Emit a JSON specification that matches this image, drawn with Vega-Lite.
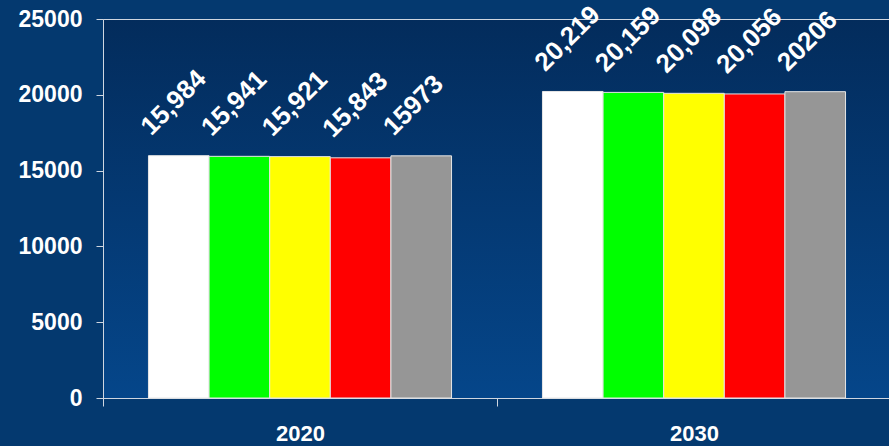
{
  "$schema": "https://vega.github.io/schema/vega-lite/v6.json",
  "width": 788,
  "height": 379,
  "autosize": {"type": "none"},
  "padding": {"left": 103, "top": 19, "right": 0, "bottom": 48},
  "background": "#04396f",
  "config": {
    "view": {
      "fill": {"gradient": "linear", "x1": 0, "y1": 0, "x2": 0, "y2": 1,
        "stops": [{"offset": 0, "color": "#032c5c"}, {"offset": 1, "color": "#05468a"}]},
      "stroke": "#cfd6e0",
      "strokeWidth": 1
    },
    "axis": {
      "labelFont": "Liberation Sans",
      "labelFontWeight": "bold",
      "labelFontSize": 23,
      "labelColor": "#ffffff",
      "domainColor": "#cfd6e0",
      "tickColor": "#cfd6e0",
      "title": null,
      "grid": false
    }
  },
  "data": {
    "values": [
      {"year": "2020", "series": "s1", "value": 15984, "label": "15,984"},
      {"year": "2020", "series": "s2", "value": 15941, "label": "15,941"},
      {"year": "2020", "series": "s3", "value": 15921, "label": "15,921"},
      {"year": "2020", "series": "s4", "value": 15843, "label": "15,843"},
      {"year": "2020", "series": "s5", "value": 15973, "label": "15973"},
      {"year": "2030", "series": "s1", "value": 20219, "label": "20,219"},
      {"year": "2030", "series": "s2", "value": 20159, "label": "20,159"},
      {"year": "2030", "series": "s3", "value": 20098, "label": "20,098"},
      {"year": "2030", "series": "s4", "value": 20056, "label": "20,056"},
      {"year": "2030", "series": "s5", "value": 20206, "label": "20206"}
    ]
  },
  "encoding": {
    "x": {
      "field": "year", "type": "nominal",
      "scale": {"paddingInner": 0, "paddingOuter": 0},
      "axis": {"labelAngle": 0, "tickBand": "extent", "tickSize": 8, "labelPadding": 17, "labelFontSize": 22}
    },
    "xOffset": {"field": "series", "type": "nominal", "scale": {"paddingInner": 0, "paddingOuter": 0.75}},
    "y": {
      "field": "value", "type": "quantitative",
      "scale": {"domain": [0, 25000]},
      "axis": {"values": [0, 5000, 10000, 15000, 20000, 25000], "tickSize": 7, "labelPadding": 14, "format": "d"}
    }
  },
  "layer": [
    {
      "mark": {"type": "bar", "stroke": "#e6e6e6", "strokeWidth": 1},
      "encoding": {
        "color": {
          "field": "series", "type": "nominal", "legend": null,
          "scale": {"domain": ["s1", "s2", "s3", "s4", "s5"], "range": ["#ffffff", "#00ff00", "#ffff00", "#ff0000", "#969696"]}
        }
      }
    },
    {
      "mark": {"type": "text", "angle": -45, "align": "left", "baseline": "alphabetic", "dx": -6, "dy": -33,
        "font": "Liberation Sans", "fontWeight": "bold", "fontSize": 26, "color": "#ffffff"},
      "encoding": {"text": {"field": "label"}}
    }
  ]
}
